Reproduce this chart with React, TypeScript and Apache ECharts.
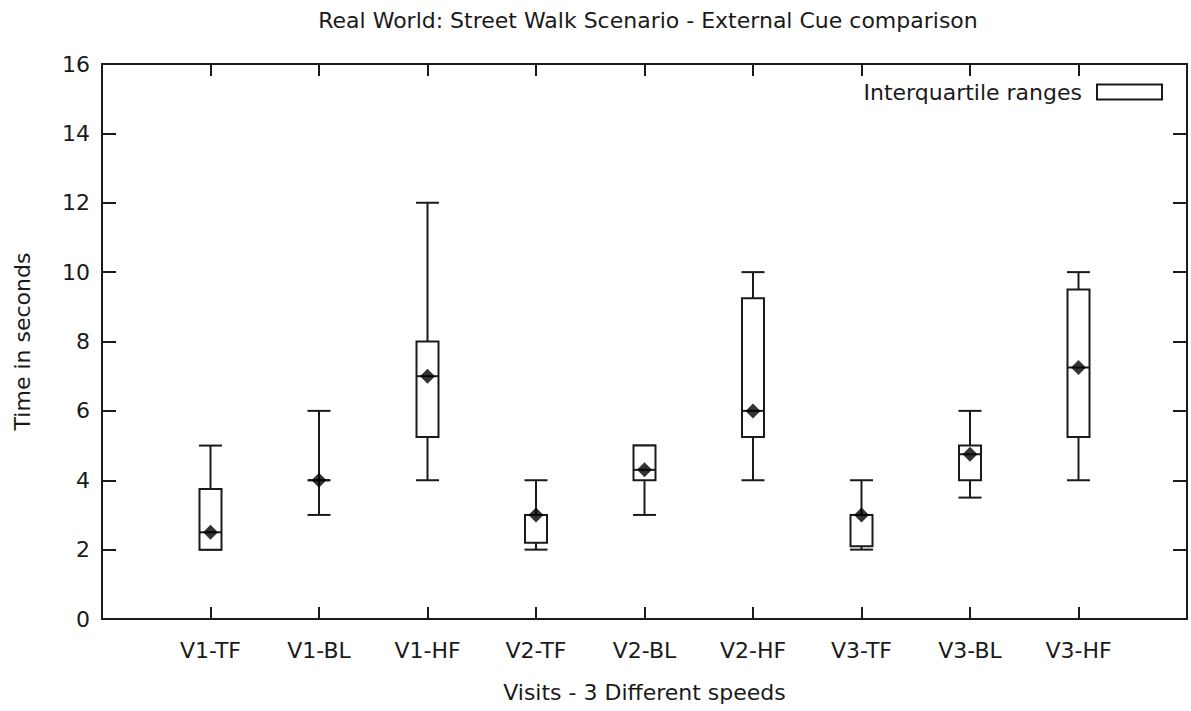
import React, { useEffect, useRef } from "react";
import * as echarts from "echarts";

const categories = ["V1-TF", "V1-BL", "V1-HF", "V2-TF", "V2-BL", "V2-HF", "V3-TF", "V3-BL", "V3-HF"];
const positions = [1, 2, 3, 4, 5, 6, 7, 8, 9];
const whiskerMin = [2, 3, 4, 2, 3, 4, 2, 3.5, 4];
const quartile1 = [2, 4, 5.25, 2.2, 4, 5.25, 2.1, 4, 5.25];
const medians = [2.5, 4, 7, 3, 4.3, 6, 3, 4.75, 7.25];
const quartile3 = [3.75, 4, 8, 3, 5, 9.25, 3, 5, 9.5];
const whiskerMax = [5, 6, 12, 4, 5, 10, 4, 6, 10];

const titleText = "Real World: Street Walk Scenario - External Cue comparison";
const xName = "Visits - 3 Different speeds";
const yName = "Time in seconds";
const legendName = "Interquartile ranges";

const FONT = "'DejaVu Sans', sans-serif";
const INK = "#1a1a1a";
const FS = 22;

export default function App() {
  const ref = useRef<HTMLDivElement>(null);

  useEffect(() => {
    if (!ref.current) return;
    const chart = echarts.init(ref.current, undefined, { renderer: "svg" });

    const boxData = positions.map((p, i) => [
      p,
      whiskerMin[i],
      quartile1[i],
      medians[i],
      quartile3[i],
      whiskerMax[i],
    ]);
    const medianData = positions.map((p, i) => [p, medians[i]]);

    const labelFor = (v: number) => {
      const idx = positions.indexOf(v);
      return idx >= 0 ? categories[idx] : "";
    };

    const lineStyle = { stroke: INK, lineWidth: 2 };

    const option: any = {
      animation: false,
      backgroundColor: "#ffffff",
      textStyle: { fontFamily: FONT, color: INK },
      title: {
        text: titleText,
        left: 643,
        textAlign: "center",
        top: 4,
        textStyle: { fontFamily: FONT, fontSize: FS, fontWeight: "normal", color: INK },
      },
      legend: {
        show: true,
        right: 23,
        top: 76,
        align: "right",
        itemWidth: 65,
        itemHeight: 15,
        data: [
          {
            name: legendName,
            icon: "rect",
            itemStyle: { color: "#ffffff", borderColor: INK, borderWidth: 2 },
          },
        ],
        textStyle: { fontFamily: FONT, fontSize: FS, color: INK, padding: [0, 10, 0, 0] },
      },
      grid: { left: 102, right: 4, top: 64, bottom: 92, containLabel: false },
      xAxis: [
        {
          type: "value",
          position: "bottom",
          min: 0,
          max: 10,
          interval: 1,
          name: xName,
          nameLocation: "middle",
          nameGap: 62,
          nameTextStyle: { fontFamily: FONT, fontSize: FS, color: INK },
          axisLine: { show: true, onZero: false, lineStyle: { color: INK, width: 2 } },
          axisTick: { show: true, inside: true, length: 12, lineStyle: { color: INK, width: 2 } },
          axisLabel: {
            show: true,
            margin: 20,
            fontFamily: FONT,
            fontSize: FS,
            color: INK,
            formatter: (v: number) => labelFor(v),
          },
          splitLine: { show: false },
        },
        {
          type: "value",
          position: "top",
          min: 0,
          max: 10,
          interval: 1,
          axisLine: { show: true, onZero: false, lineStyle: { color: INK, width: 2 } },
          axisTick: { show: true, inside: true, length: 12, lineStyle: { color: INK, width: 2 } },
          axisLabel: { show: false },
          splitLine: { show: false },
        },
      ],
      yAxis: [
        {
          type: "value",
          position: "left",
          min: 0,
          max: 16,
          interval: 2,
          name: yName,
          nameLocation: "middle",
          nameGap: 69,
          nameRotate: 90,
          nameTextStyle: { fontFamily: FONT, fontSize: FS, color: INK },
          axisLine: { show: true, onZero: false, lineStyle: { color: INK, width: 2 } },
          axisTick: { show: true, inside: true, length: 14, lineStyle: { color: INK, width: 2 } },
          axisLabel: { show: true, margin: 12, fontFamily: FONT, fontSize: FS, color: INK },
          splitLine: { show: false },
        },
        {
          type: "value",
          position: "right",
          min: 0,
          max: 16,
          interval: 2,
          axisLine: { show: true, onZero: false, lineStyle: { color: INK, width: 2 } },
          axisTick: { show: true, inside: true, length: 14, lineStyle: { color: INK, width: 2 } },
          axisLabel: { show: false },
          splitLine: { show: false },
        },
      ],
      series: [
        {
          name: legendName,
          type: "custom",
          xAxisIndex: 0,
          yAxisIndex: 0,
          data: boxData,
          encode: { x: 0, y: [1, 2, 3, 4, 5] },
          itemStyle: { color: "#ffffff", borderColor: INK, borderWidth: 2 },
          renderItem: (params: any, api: any) => {
            const x = api.value(0);
            const lo = api.coord([x, api.value(1)]);
            const q1 = api.coord([x, api.value(2)]);
            const med = api.coord([x, api.value(3)]);
            const q3 = api.coord([x, api.value(4)]);
            const hi = api.coord([x, api.value(5)]);
            const bw = 11;
            const cw = 11.5;
            const cx = lo[0];
            return {
              type: "group",
              children: [
                { type: "line", shape: { x1: cx, y1: lo[1], x2: cx, y2: q1[1] }, style: lineStyle },
                { type: "line", shape: { x1: cx, y1: q3[1], x2: cx, y2: hi[1] }, style: lineStyle },
                { type: "line", shape: { x1: cx - cw, y1: lo[1], x2: cx + cw, y2: lo[1] }, style: lineStyle },
                { type: "line", shape: { x1: cx - cw, y1: hi[1], x2: cx + cw, y2: hi[1] }, style: lineStyle },
                {
                  type: "rect",
                  shape: { x: cx - bw, y: q3[1], width: bw * 2, height: q1[1] - q3[1] },
                  style: { fill: "#ffffff", stroke: INK, lineWidth: 2 },
                },
                { type: "line", shape: { x1: cx - cw, y1: med[1], x2: cx + cw, y2: med[1] }, style: lineStyle },
              ],
            };
          },
          z: 2,
        },
        {
          name: "Median",
          type: "scatter",
          xAxisIndex: 0,
          yAxisIndex: 0,
          data: medianData,
          symbol: "diamond",
          symbolSize: 15,
          itemStyle: { color: "#000000" },
          z: 3,
        },
      ],
    };

    chart.setOption(option);
    return () => {
      chart.dispose();
    };
  }, []);

  return (
    <div
      ref={ref}
      style={{ position: "absolute", left: 0, top: 0, width: 1191, height: 711, background: "#fff" }}
    />
  );
}
